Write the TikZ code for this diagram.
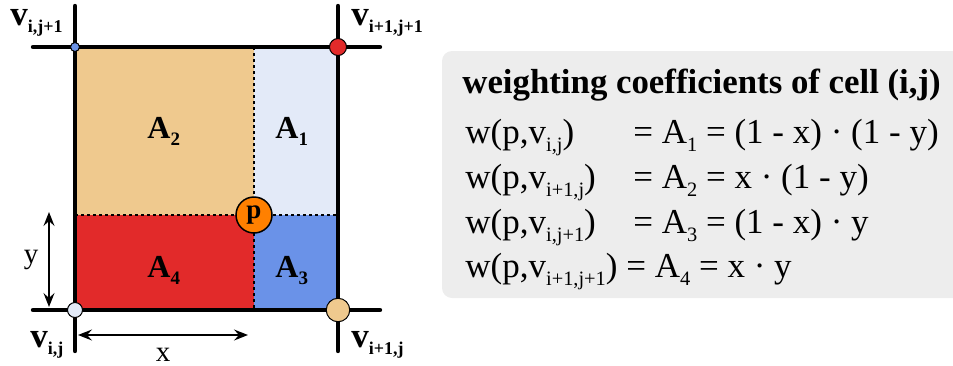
\documentclass[tikz,border=0pt]{standalone}
\usepackage{fontspec}
\setmainfont{Liberation Serif}[BoldFont={Liberation Serif Bold}]
\usetikzlibrary{arrows.meta,positioning,calc}
\definecolor{cTan}{HTML}{EFC98E}
\definecolor{cPale}{HTML}{E3EAF8}
\definecolor{cRed}{HTML}{E22A2A}
\definecolor{cBlue}{HTML}{6A92E8}
\definecolor{cOrange}{HTML}{FF8000}
\definecolor{cGray}{HTML}{EDEDED}
\newcommand{\vlab}[1]{{\fontsize{17.5}{17.5}\selectfont v}\raisebox{-3.5pt}{\fontsize{9}{9}\selectfont #1}}
\newcommand{\alab}[1]{{\fontsize{16}{16}\selectfont A}\raisebox{-3.5pt}{\fontsize{9.5}{9.5}\selectfont #1}}
\newcommand{\sbs}[1]{\raisebox{-4pt}{\fontsize{10.2}{10.2}\selectfont #1}}
\newcommand{\wlhs}[1]{\makebox[84pt][l]{w(p,v\sbs{#1})}}
\tikzset{
  gline/.style={line width=2.2pt, line cap=round},
  dsh/.style={dash pattern=on 1.5pt off 1.5pt, line width=0.8pt},
  vtx/.style={circle, draw, line width=0.5pt, inner sep=0pt},
  dim/.style={{Stealth[length=7pt,width=5.5pt,inset=2.5pt]}-{Stealth[length=7pt,width=5.5pt,inset=2.5pt]}, line width=0.7pt},
  lbl/.style={inner sep=0pt, anchor=base west, font=\bfseries},
  eq/.style={inner sep=0pt, anchor=base west, font=\fontsize{17.5}{20}\selectfont},
}

\begin{document}
\begin{tikzpicture}[x=0.5pt,y=-0.5pt]
  \path[use as bounding box, clip] (0,0) rectangle (953,365);
  \coordinate (c00) at (75,310);
  \coordinate (c10) at (338,310);
  \coordinate (c01) at (75,47);
  \coordinate (c11) at (338,47);
  \coordinate (cp) at (254,215);
  \fill[cTan] (c01) rectangle (cp);
  \fill[cPale] (cp) rectangle (c11);
  \fill[cRed] (c00) rectangle (cp);
  \fill[cBlue] (cp) rectangle (c10);
  \draw[dsh] (cp |- c01) -- (cp |- c00);
  \draw[dsh] (cp -| c00) -- (cp -| c10);
  \foreach \gx in {75,338} \draw[gline] (\gx,6) -- (\gx,351);
  \foreach \gy in {47,310} \draw[gline] (33,\gy) -- (380,\gy);
  \node[vtx,fill=cBlue,minimum size=4.5pt] (n01) at (c01) {};
  \node[vtx,fill=cRed,minimum size=8.5pt] (n11) at (c11) {};
  \node[vtx,fill=cPale,minimum size=7.5pt] (n00) at (c00) {};
  \node[vtx,fill=cTan,minimum size=11.75pt] (n10) at (c10) {};
  \node[vtx,fill=cOrange,minimum size=18pt,line width=0.75pt,font=\fontsize{13.5}{13.5}\selectfont\bfseries] (p) at (cp) {p};
  \node[lbl] (l01) at (10,25) {\vlab{i,j+1}};
  \node[lbl] (l11) at (351,25) {\vlab{i+1,j+1}};
  \node[lbl] (l00) at (30,347) {\vlab{i,j}};
  \node[lbl] (l10) at (351,347) {\vlab{i+1,j}};
  \node[lbl] (a2) at (147,138) {\alab{2}};
  \node[lbl] (a1) at (275,138) {\alab{1}};
  \node[lbl] (a4) at (147,277) {\alab{4}};
  \node[lbl] (a3) at (275,277) {\alab{3}};
  \coordinate (ya) at (49,212);
  \coordinate (yb) at (49,307);
  \draw[dim] (ya) -- (yb) node[midway,left=5pt,inner sep=0pt,font=\fontsize{14.5}{16}\selectfont] (ly) {y};
  \coordinate (xa) at (78,335);
  \coordinate (xb) at (248,335);
  \draw[dim] (xa) -- (xb) node[midway,below=6pt,inner sep=0pt,font=\fontsize{14.5}{16}\selectfont] (lx) {x};
  \fill[cGray, rounded corners=5pt] (442,51) rectangle (975,298);
  \node[eq,font=\fontsize{17.4}{20}\selectfont\bfseries] (e0) at (462,93) {weighting coefficients of cell (i,j)};
  \node[eq] (e1) at (465,143) {\wlhs{i,j}= A\sbs{1} = (1 - x) · (1 - y)};
  \node[eq] (e2) at (465,188) {\wlhs{i+1,j}= A\sbs{2} = x · (1 - y)};
  \node[eq] (e3) at (465,233) {\wlhs{i,j+1}= A\sbs{3} = (1 - x) · y};
  \node[eq] (e4) at (465,277) {w(p,v\sbs{i+1,j+1}) = A\sbs{4} = x · y};
\end{tikzpicture}
\end{document}
